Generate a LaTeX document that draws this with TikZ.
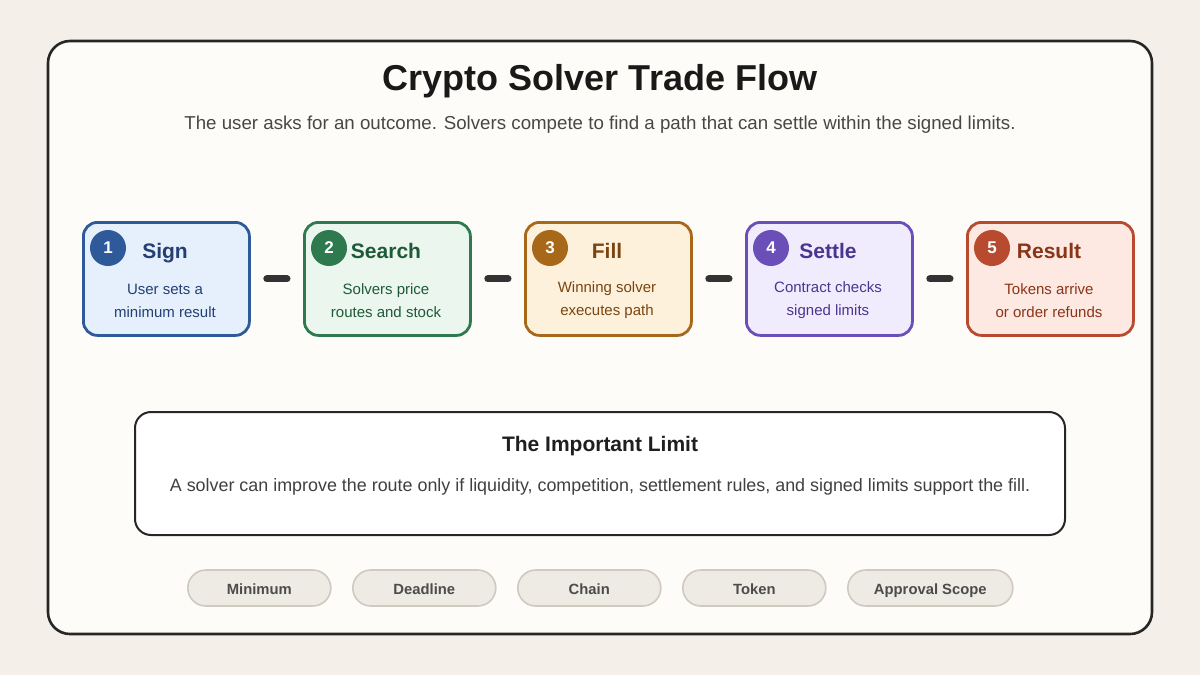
\documentclass[tikz,border=0pt]{standalone}
\usepackage{fontspec}
\setmainfont{Liberation Sans}
\begin{document}
\begin{tikzpicture}[x=0.5pt,y=-0.5pt,
  step/.style={draw=#1, line width=1.4pt, rounded corners=7pt, minimum width=83pt, minimum height=56.5pt, anchor=north west},
  badge/.style={circle, fill=#1, minimum size=18pt, inner sep=0pt, text=white, font=\bfseries\fontsize{8.5}{10}\selectfont},
  ttl/.style={font=\bfseries\fontsize{10.5}{12}\selectfont, text=#1, text height=7.6pt, text depth=2.2pt},
  body/.style={font=\fontsize{7.5}{11.5}\selectfont, text=#1, align=center},
  conn/.style={line width=3.5pt, draw=black!80, line cap=round},
  pill/.style={draw=pillb, fill=pillf, line width=0.8pt, rounded corners=9pt, minimum height=18pt, text height=6.4pt, text depth=0pt, anchor=west, font=\bfseries\fontsize{7.4}{8}\selectfont, text=black!70}]
\definecolor{bg}{HTML}{F4EFE9}
\definecolor{panel}{HTML}{FDFCF8}
\definecolor{pillf}{HTML}{EEEAE4}
\definecolor{pillb}{HTML}{CFC9C0}
\definecolor{bB}{HTML}{2F5A9A}\definecolor{fB}{HTML}{E6F0FD}\definecolor{tB}{HTML}{233F73}
\definecolor{bG}{HTML}{2E7A4E}\definecolor{fG}{HTML}{EAF6EE}\definecolor{tG}{HTML}{1F5A38}
\definecolor{bO}{HTML}{A8681A}\definecolor{fO}{HTML}{FEF1DC}\definecolor{tO}{HTML}{7A4510}
\definecolor{bP}{HTML}{6A4FB8}\definecolor{fP}{HTML}{F1ECFD}\definecolor{tP}{HTML}{4A3590}
\definecolor{bR}{HTML}{B84A30}\definecolor{fR}{HTML}{FDE8E2}\definecolor{tR}{HTML}{8A3518}
\fill[bg] (0,0) rectangle (1200,675);
\useasboundingbox (0,0) rectangle (1200,675);
\draw[fill=panel, line width=1.3pt, draw=black!85, rounded corners=11pt] (48,41) rectangle (1152,634);
\node[font=\bfseries\fontsize{18}{20}\selectfont, text=black!90] (title) at (600,81) {Crypto Solver Trade Flow};
\node[font=\fontsize{9.35}{11}\selectfont, text=black!72] (sub) at (600,125) {The user asks for an outcome. Solvers compete to find a path that can settle within the signed limits.};
\foreach \i/\x/\c/\t/\a/\b in {1/82/B/Sign/User sets a/minimum result, 2/303/G/Search/Solvers price/routes and stock, 3/524/O/Fill/Winning solver/executes path, 4/745/P/Settle/Contract checks/signed limits, 5/966/R/Result/Tokens arrive/or order refunds}{
  \node[step=b\c, fill=f\c] (s\i) at (\x,221) {};
  \node[badge=b\c] (n\i) at (\x+26,248) {\i};
  \node[ttl=t\c] (t\i) at (\x+83,253) {\t};
  \node[body=t\c] (d\i) at (\x+83,300.5) {\a\\\b};
}
\foreach \i/\j in {1/2,2/3,3/4,4/5}{
  \draw[conn] ([xshift=8pt]s\i.east) -- ([xshift=-8pt]s\j.west);
}
\draw[fill=white, line width=1pt, draw=black!85, rounded corners=8pt] (135,412) rectangle (1065,535);
\node[font=\bfseries\fontsize{10.5}{12}\selectfont, text=black!88] (lt) at (600,446) {The Important Limit};
\node[font=\fontsize{8.95}{10}\selectfont, text=black!75] (ld) at (600,487) {A solver can improve the route only if liquidity, competition, settlement rules, and signed limits support the fill.};
\node[pill, minimum width=71.5pt] (p1) at (187,588) {Minimum};
\node[pill, minimum width=71.5pt] (p2) at (352,588) {Deadline};
\node[pill, minimum width=71.5pt] (p3) at (517,588) {Chain};
\node[pill, minimum width=71.5pt] (p4) at (682,588) {Token};
\node[pill, minimum width=82.5pt] (p5) at (847,588) {Approval Scope};
\end{tikzpicture}
\end{document}
